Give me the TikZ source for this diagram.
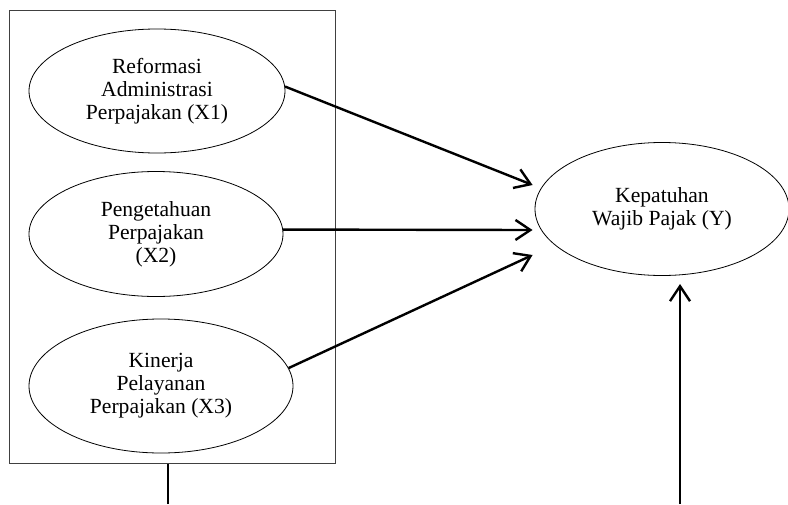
\documentclass[tikz,border=0pt]{standalone}
\usepackage{fontspec}
\setmainfont{Liberation Serif}
\usetikzlibrary{shapes.geometric,arrows.meta,positioning}

\begin{document}
\begin{tikzpicture}[x=0.5pt, y=-0.5pt,
    font=\fontsize{10.8}{11.5}\selectfont,
    var/.style={draw, ellipse, inner sep=0pt, align=center, line width=0.4pt},
    path/.style={line width=1.2pt, -{Straight Barb[length=7.5pt,width=10pt]}}]
    \useasboundingbox (0,0) rectangle (788,504);

    % Box round the independent variables
    \node[draw=black!75, line width=0.5pt, minimum width=163pt, minimum height=226.5pt,
          inner sep=0pt, anchor=north west] (frame) at (9,10) {};

    % Independent variables
    \node[var, minimum width=128pt, minimum height=62pt] (x1) at (157,91)
        {Reformasi\\Administrasi\\Perpajakan (X1)};
    \node[var, minimum width=127pt, minimum height=62.5pt] (x2) at (156,234)
        {Pengetahuan\\Perpajakan\\(X2)};
    \node[var, minimum width=132pt, minimum height=67pt] (x3) at (161,386)
        {Kinerja\\Pelayanan\\Perpajakan (X3)};

    % Dependent variable
    \node[var, minimum width=127pt, minimum height=66.5pt] (y) at (662,209)
        {Kepatuhan\\Wajib Pajak (Y)};

    % Arrows
    \draw[path] (x1.2) -- ([xshift=-1pt, yshift=12pt]y.west);
    \draw[path] (x2.2) -- ([xshift=-1pt, yshift=-10.5pt]y.west);
    \draw[path] (x3.8) -- ([xshift=-1pt, yshift=-23pt]y.west);

    % Lines from below
    \coordinate (b1) at (168,504);
    \coordinate (b2) at (680,504);
    \coordinate (ytip) at (680,284);
    \draw[line width=1pt] (b1) -- (b1 |- frame.south);
    \draw[path] (b2) -- (ytip);
\end{tikzpicture}
\end{document}
